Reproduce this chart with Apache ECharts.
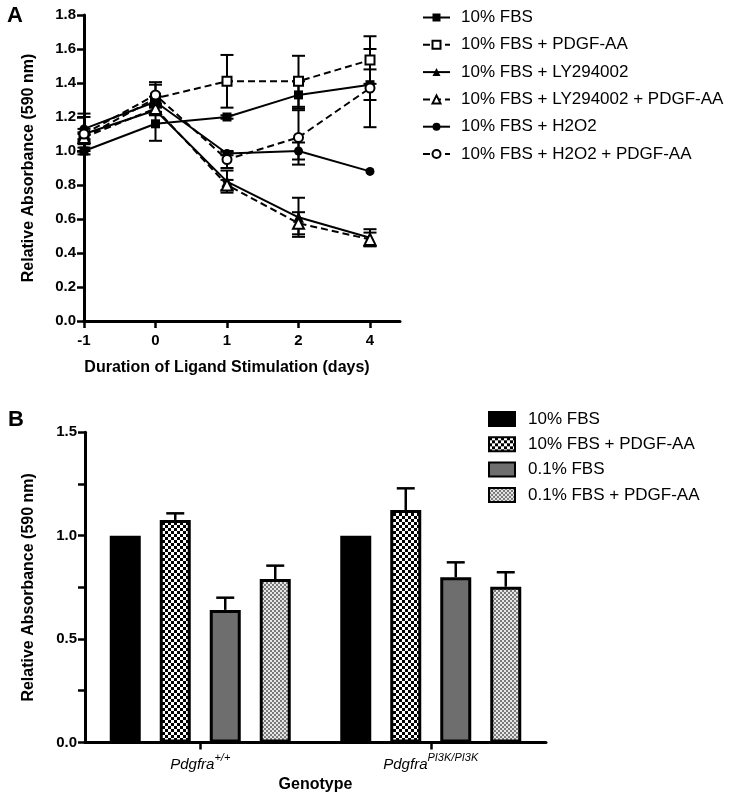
<!DOCTYPE html>
<html><head><meta charset="utf-8">
<script src="https://cdn.jsdelivr.net/npm/echarts@6/dist/echarts.min.js"></script>
<style>html,body{margin:0;padding:0;background:#fff}#c{width:732px;height:796px}</style>
</head><body><div id="c"></div>
<script>
// ---------- Panel A data ----------
const dayLabels = ['-1', '0', '1', '2', '4'];
const seriesNamesA = ['10% FBS', '10% FBS + PDGF-AA', '10% FBS + LY294002', '10% FBS + LY294002 + PDGF-AA', '10% FBS + H2O2', '10% FBS + H2O2 + PDGF-AA'];
const fbs          = [1.00, 1.16, 1.20, 1.33, 1.39];
const fbsErr       = [0.02, 0.10, 0.01, 0.08, 0.09];
const fbsPdgf      = [1.08, 1.31, 1.41, 1.41, 1.535];
const fbsPdgfErr   = [0.02, 0.08, 0.155, 0.15, 0.14];
const ly           = [1.10, 1.24, 0.82, 0.61, 0.49];
const lyErr        = [0.10, 0.03, 0.065, 0.115, 0.05];
const lyPdgf       = [1.08, 1.25, 0.80, 0.575, 0.48];
const lyPdgfErr    = [0.03, 0.03, 0.03, 0.065, 0.04];
const h2o2         = [1.13, 1.29, 0.985, 1.00, 0.88];
const h2o2Err      = [0.09, 0.03, 0.01, 0.05, 0.0];
const h2o2Pdgf     = [1.10, 1.33, 0.95, 1.08, 1.37];
const h2o2PdgfErr  = [0.03, 0.075, 0.05, 0.16, 0.23];
const yTicksA = [0, 1.8, 0.2];

// ---------- Panel B data ----------
const genotypes = ['Pdgfra+/+', 'PdgfraPI3K/PI3K'];
const genotypeBase = ['Pdgfra', 'Pdgfra'];
const genotypeSup = ['+/+', 'PI3K/PI3K'];
const seriesNamesB = ['10% FBS', '10% FBS + PDGF-AA', '0.1% FBS', '0.1% FBS + PDGF-AA'];
const fbs10        = [1.00, 1.00];
const fbs10Err     = [0, 0];
const fbs10Pdgf    = [1.076, 1.124];
const fbs10PdgfErr = [0.032, 0.105];
const fbs01        = [0.641, 0.799];
const fbs01Err     = [0.059, 0.072];
const fbs01Pdgf    = [0.79, 0.753];
const fbs01PdgfErr = [0.065, 0.07];

// ---------- styles ----------
const FONT = 'Liberation Sans, Arial, sans-serif';
function makePattern(cell, c1, c2) {
  const cv = document.createElement('canvas');
  cv.width = cell * 2; cv.height = cell * 2;
  const g = cv.getContext('2d');
  g.fillStyle = c2; g.fillRect(0, 0, cell * 2, cell * 2);
  g.fillStyle = c1;
  g.fillRect(0, 0, cell, cell);
  g.fillRect(cell, cell, cell, cell);
  return { image: cv, repeat: 'repeat' };
}
const checkerBW = makePattern(3, '#000', '#fff');
const checkerGray = makePattern(2, '#7a7a7a', '#e6e6e6');

const valsA = [fbs, fbsPdgf, ly, lyPdgf, h2o2, h2o2Pdgf];
const errsA = [fbsErr, fbsPdgfErr, lyErr, lyPdgfErr, h2o2Err, h2o2PdgfErr];
const symA = ['rect', 'rect', 'triangle', 'triangle', 'circle', 'circle'];
const sizeA = [9, 9, 11, 11, 9, 9];
const openA = [false, true, false, true, false, true];

const valsB = [fbs10, fbs10Pdgf, fbs01, fbs01Pdgf];
const errsB = [fbs10Err, fbs10PdgfErr, fbs01Err, fbs01PdgfErr];
const fillsB = ['#000', checkerBW, '#6e6e6e', checkerGray];
// distinct internal keys for panel B so legends do not collide with panel A names
const keysB = seriesNamesB.map(n => n + '\u200b');
const BAR_W = 31, BAR_PITCH = 50;

const series = [];
valsA.forEach((vals, k) => {
  series.push({
    type: 'custom', name: 'errA' + k, xAxisIndex: 0, yAxisIndex: 0, z: 1, silent: true,
    data: vals.map((v, i) => [i, v, errsA[k][i]]),
    encode: { x: 0, y: 1 },
    renderItem: function (params, api) {
      const x = api.value(0), v = api.value(1), e = api.value(2);
      if (!e) return null;
      const t = api.coord([x, v + e]), b = api.coord([x, v - e]);
      const hw = 6.5, st = { stroke: '#000', lineWidth: 2 };
      return { type: 'group', children: [
        { type: 'line', shape: { x1: t[0], y1: t[1], x2: b[0], y2: b[1] }, style: st },
        { type: 'line', shape: { x1: t[0] - hw, y1: t[1], x2: t[0] + hw, y2: t[1] }, style: st },
        { type: 'line', shape: { x1: b[0] - hw, y1: b[1], x2: b[0] + hw, y2: b[1] }, style: st }
      ]};
    }
  });
});
valsA.forEach((vals, k) => {
  series.push({
    type: 'line', name: seriesNamesA[k], xAxisIndex: 0, yAxisIndex: 0, z: 3,
    data: vals.map((v, i) => [i, v]),
    symbol: symA[k], symbolSize: sizeA[k], showAllSymbol: true,
    lineStyle: { color: '#000', width: 2, type: openA[k] ? [7, 4] : 'solid' },
    itemStyle: { color: openA[k] ? '#fff' : '#000', borderColor: '#000', borderWidth: openA[k] ? 2 : 0 },
    emphasis: { disabled: true }
  });
});
valsB.forEach((vals, k) => {
  series.push({
    type: 'bar', name: keysB[k], xAxisIndex: 2, yAxisIndex: 2,
    data: vals, barWidth: BAR_W, barGap: ((BAR_PITCH - BAR_W) / BAR_W * 100) + '%',
    itemStyle: { color: fillsB[k], borderColor: '#000', borderWidth: 3 },
    emphasis: { disabled: true }
  });
});
valsB.forEach((vals, k) => {
  series.push({
    type: 'custom', name: 'errB' + k, xAxisIndex: 2, yAxisIndex: 2, z: 1, silent: true,
    data: vals.map((v, i) => [i, v, errsB[k][i]]),
    encode: { x: 0, y: 1 },
    renderItem: function (params, api) {
      const x = api.value(0), v = api.value(1), e = api.value(2);
      if (!e) return null;
      const off = (k - 1.5) * BAR_PITCH;
      const t = api.coord([x, v + e]), b = api.coord([x, v]);
      const hw = 9, st = { stroke: '#000', lineWidth: 2.5 };
      return { type: 'group', children: [
        { type: 'line', shape: { x1: t[0] + off, y1: t[1], x2: b[0] + off, y2: b[1] }, style: st },
        { type: 'line', shape: { x1: t[0] + off - hw, y1: t[1], x2: t[0] + off + hw, y2: t[1] }, style: st }
      ]};
    }
  });
});

const axisLineStyle = { color: '#000', width: 3 };
const tickStyle = { show: true, inside: false, length: 7, lineStyle: { color: '#000', width: 2.5 } };
const labelBold = { color: '#000', fontFamily: FONT, fontWeight: 'bold', fontSize: 15 };

const option = {
  animation: false,
  backgroundColor: '#fff',
  textStyle: { fontFamily: FONT },
  title: [
    { text: 'A', left: 2, top: 0, textStyle: { fontSize: 22, fontWeight: 'bold', color: '#000', fontFamily: FONT } },
    { text: 'B', left: 3, top: 404, textStyle: { fontSize: 22, fontWeight: 'bold', color: '#000', fontFamily: FONT } }
  ],
  legend: [
    {
      data: seriesNamesA, orient: 'vertical', left: 422, top: 9, padding: 0,
      itemWidth: 27, itemHeight: 10, itemGap: 10.3,
      textStyle: { fontSize: 17, color: '#000', fontFamily: FONT, padding: [0, 0, 0, 6] },
      selectedMode: false
    },
    {
      data: keysB, orient: 'vertical', left: 488, top: 410.5, padding: 0,
      icon: 'rect', itemWidth: 26, itemHeight: 14, itemGap: 8.3,
      textStyle: { fontSize: 17, color: '#000', fontFamily: FONT, padding: [0, 0, 0, 8] },
      selectedMode: false
    }
  ],
  grid: [
    { left: 84, right: 362, top: 15, bottom: 475 },
    { left: 84, right: 332, top: 15, bottom: 475 },
    { left: 85, right: 186, top: 432.3, bottom: 53.6 }
  ],
  xAxis: [
    {
      gridIndex: 0, type: 'value', min: 0, max: 4, interval: 1,
      axisLine: { show: true, lineStyle: axisLineStyle }, axisTick: tickStyle,
      splitLine: { show: false },
      axisLabel: Object.assign({ margin: 12, formatter: v => dayLabels[v] }, labelBold),
      name: 'Duration of Ligand Stimulation (days)', nameLocation: 'middle', nameGap: 39,
      nameTextStyle: { fontSize: 16, fontWeight: 'bold', color: '#000', fontFamily: FONT }
    },
    {
      gridIndex: 1, type: 'value', min: 0, max: 1,
      axisLine: { show: true, lineStyle: axisLineStyle }, axisTick: { show: false },
      axisLabel: { show: false }, splitLine: { show: false }
    },
    {
      gridIndex: 2, type: 'category', data: genotypes,
      axisLine: { show: true, lineStyle: axisLineStyle },
      axisTick: Object.assign({ alignWithLabel: true }, tickStyle),
      axisLabel: {
        margin: 10, color: '#000', fontFamily: FONT,
        formatter: (v, i) => '{it|' + genotypeBase[i] + '}{sup|' + genotypeSup[i] + '}',
        rich: {
          it: { fontStyle: 'italic', fontSize: 15, color: '#000', fontFamily: FONT, lineHeight: 20, verticalAlign: 'bottom' },
          sup: { fontStyle: 'italic', fontSize: 11, color: '#000', fontFamily: FONT, lineHeight: 20, verticalAlign: 'top' }
        }
      },
      name: 'Genotype', nameLocation: 'middle', nameGap: 34,
      nameTextStyle: { fontSize: 16, fontWeight: 'bold', color: '#000', fontFamily: FONT }
    }
  ],
  yAxis: [
    {
      gridIndex: 0, type: 'value', min: yTicksA[0], max: yTicksA[1], interval: yTicksA[2],
      axisLine: { show: true, lineStyle: axisLineStyle }, axisTick: tickStyle,
      splitLine: { show: false },
      axisLabel: Object.assign({ margin: 8, formatter: v => v.toFixed(1) }, labelBold),
      name: 'Relative Absorbance (590 nm)', nameLocation: 'middle', nameGap: 47,
      nameTextStyle: { fontSize: 16, fontWeight: 'bold', color: '#000', fontFamily: FONT }
    },
    { gridIndex: 1, type: 'value', min: 0, max: 1.8, show: false },
    {
      gridIndex: 2, type: 'value', min: 0, max: 1.5, interval: 0.25,
      axisLine: { show: true, lineStyle: axisLineStyle }, axisTick: tickStyle,
      splitLine: { show: false },
      axisLabel: Object.assign({ margin: 8, formatter: v => (Math.abs(v * 2 - Math.round(v * 2)) < 1e-6 ? v.toFixed(1) : '') }, labelBold),
      name: 'Relative Absorbance (590 nm)', nameLocation: 'middle', nameGap: 48,
      nameTextStyle: { fontSize: 16, fontWeight: 'bold', color: '#000', fontFamily: FONT }
    }
  ],
  series: series
};
const chart = echarts.init(document.getElementById('c'), null, { renderer: 'canvas' });
chart.setOption(option);
</script>
</body></html>
